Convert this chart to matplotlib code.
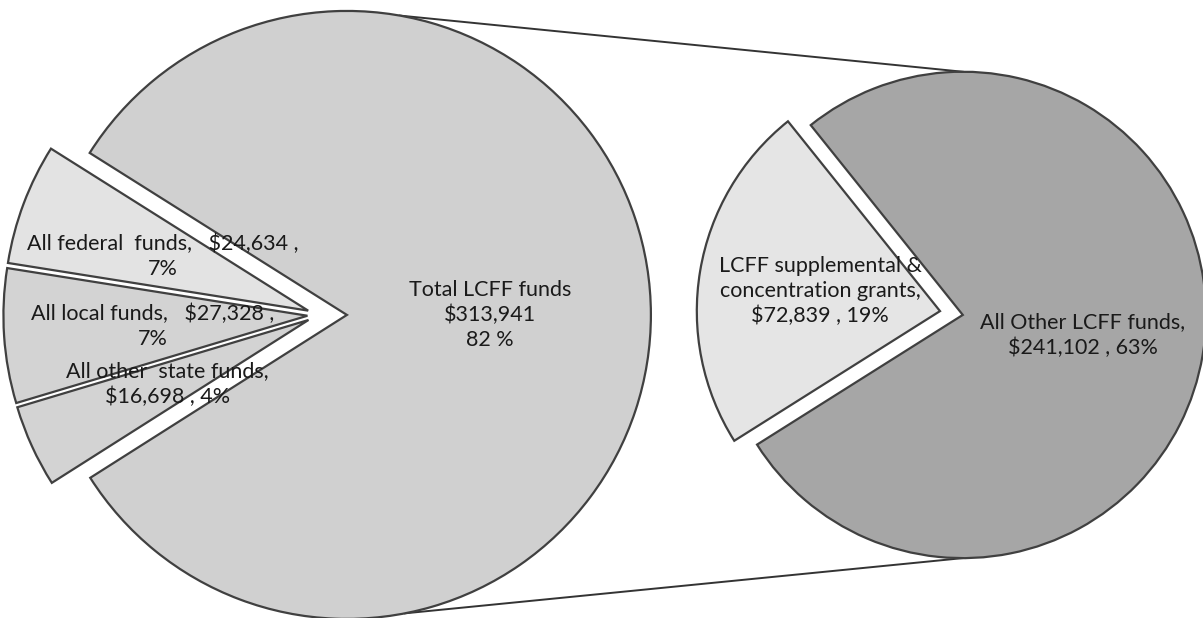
import numpy as np
import matplotlib.pyplot as plt

# Data
main_labels = ['Total LCFF funds', 'All federal funds', 'All local funds', 'All other state funds']
main_values = [313941, 24634, 27328, 16698]
main_text = ['Total LCFF funds\n$313,941\n82 %',
             'All federal  funds,   $24,634 ,\n7%',
             'All local funds,   $27,328 ,\n7%',
             'All other  state funds,\n$16,698 , 4%']

lcff_labels = ['LCFF supplemental & concentration grants', 'All Other LCFF funds']
lcff_values = [72839, 241102]
lcff_text = ['LCFF supplemental &\nconcentration grants,\n$72,839 , 19%',
             'All Other LCFF funds,\n$241,102 , 63%']

plt.rcParams['font.family'] = ['Lato', 'DejaVu Sans']

fig = plt.figure(figsize=(12.03, 6.18), dpi=100)
ax = fig.add_axes([0, 0, 1, 1])

edge = '#404040'
wp = dict(edgecolor=edge, linewidth=1.6)
tp = dict(fontsize=15.5, color='#1a1a1a', ha='center', va='center', linespacing=1.32)

# left pie
r1 = 1.0
wedges1, texts1 = ax.pie(main_values, labels=main_text, startangle=-147.6,
                         colors=['#d0d0d0', '#e3e3e3', '#d3d3d3', '#d3d3d3'],
                         explode=[0, 0.04, 0.04, 0.04], radius=r1, center=(0, 0),
                         labeldistance=0.51, wedgeprops=wp, textprops=tp,
                         frame=True)
# the small slices are pulled out to the left together
shift = 0.09
for w, t in zip(wedges1[1:], texts1[1:]):
    cx, cy = w.center
    w.set_center((cx - shift, cy))
    x, y = t.get_position()
    t.set_position((x - shift, y))
texts1[0].set_position((0.47, 0.0))
for t in texts1:
    t.set_ha('center')

# right pie
c2 = (2.026, 0.0)
r2 = 0.80
wedges2, texts2 = ax.pie(lcff_values, labels=lcff_text, startangle=128.7,
                         colors=['#e5e5e5', '#a6a6a6'], explode=[0.076, 0],
                         radius=r2, center=c2, labeldistance=0.5,
                         wedgeprops=wp, textprops=tp, frame=True)
for t in texts2:
    t.set_ha('center')

ax.set_xlim(-1.141, 2.816)
ax.set_ylim(-0.997, 1.036)
ax.set_aspect('equal')
ax.axis('off')

# connector lines
a_top, a_bot = np.radians(80), np.radians(-79)
ax.plot([r1 * np.cos(a_top), c2[0]], [r1 * np.sin(a_top), c2[1] + r2],
        color='#333333', linewidth=1.4, zorder=0)
ax.plot([r1 * np.cos(a_bot), c2[0]], [r1 * np.sin(a_bot), c2[1] - r2],
        color='#333333', linewidth=1.4, zorder=0)

fig.savefig('out.png', dpi=100, facecolor='white')
